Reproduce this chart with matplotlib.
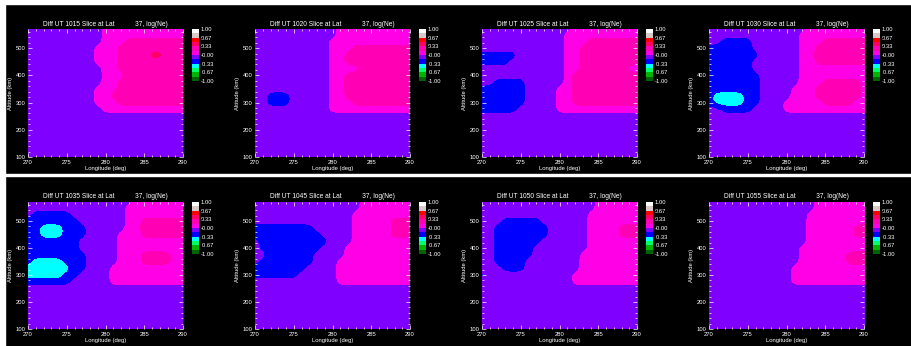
import numpy as np
import matplotlib
matplotlib.use("Agg")
import matplotlib.pyplot as plt
from matplotlib.colors import ListedColormap, BoundaryNorm
from matplotlib.patches import Rectangle
from matplotlib.ticker import MultipleLocator

# model grid: longitude every 1 deg, altitude every 25 km
lon = np.arange(270, 291, 1)
alt = np.arange(100, 576, 25)

lat = 37
ut_times = ["1015", "1020", "1025", "1030", "1035", "1045", "1050", "1055"]

# log(Ne) difference per node, one character per band midpoint
band_value = {"c": -0.417, "b": -0.25, ".": -0.083, "p": 0.083, "P": 0.25, "r": 0.417}

# rows run from 575 km (top) down to 100 km
diff_1015 = [
    "..........ppppppppppp",
    "..........ppppppppppp",
    "..........pppPPPPPPPP",
    ".........pppPPPPPPPPP",
    ".........pppPPPPrrPPP",
    ".........pppPPPPPPPPP",
    "..........ppPPPPPPPPP",
    "..........pppPPPPPPPP",
    "..........ppPPPPPPPPP",
    ".........pppPPPPPPPPP",
    ".........ppPPPPPPPPPP",
    ".........pppPPPPPPPPP",
    "..........ppppppppppp",
    ".....................",
    ".....................",
    ".....................",
    ".....................",
    ".....................",
    ".....................",
    ".....................",
]
diff_1020 = [
    "...........pppppppppp",
    "...........pppppppppp",
    "..........ppppppppppp",
    "..........pppPPPPPPPP",
    "..........ppPPPPPPPPP",
    "..........ppPPPPPPPPP",
    "..........ppppPPPPPPP",
    "..........ppPPPPPPPPP",
    "..........ppPPPPPPPPP",
    "..........ppPPPPPPPPP",
    "..bbb.....ppPPPPPPPPP",
    "..bbb.....pppPPPPPPPP",
    "..........ppppppppppp",
    ".....................",
    ".....................",
    ".....................",
    ".....................",
    ".....................",
    ".....................",
    ".....................",
]
diff_1025 = [
    "............ppppppppp",
    "...........pppppppppp",
    "...........pppPPPPPPP",
    "...........ppPPPPPPPP",
    "bbbbb......ppPPPPPPPP",
    "bbbb.......ppPPPPPPPP",
    "...........ppPPPPPPpp",
    "...........pPPPPPPPPP",
    "..bbbb.....pPPPPPPPPP",
    "bbbbbb....ppPPPPPPPPP",
    "bbbbbb....ppPPPPPPPPP",
    "bbbbbb....ppPPPPPPPPP",
    "bbbbb.....ppppppppppp",
    ".....................",
    ".....................",
    ".....................",
    ".....................",
    ".....................",
    ".....................",
    ".....................",
]
diff_1030 = [
    ".............pppppppp",
    "............ppppppppp",
    "..bbbb......pppPPPPPP",
    "bbbbbb......ppPPPPPPP",
    "bbbbbbb.....ppPPPPPPP",
    "bbbbbb......ppPPPPPPP",
    ".bbbbb......ppppppppp",
    "bbbbbbb.....ppppppppp",
    "bbbbbbb.....pppPPPPPp",
    "bbbbbbb....pppPPPPPPp",
    "bccccbb....pppPPPPPPp",
    "bccccbb...pppppPPPPpp",
    "..bbbb....ppppppppppp",
    ".....................",
    ".....................",
    ".....................",
    ".....................",
    ".....................",
    ".....................",
    ".....................",
]
diff_1035 = [
    "..............ppppppp",
    ".............pppppppp",
    ".bbbbb.......pppppppp",
    "bbbbbbb......ppPPPPPP",
    "bbcccbbb.....ppPPPPPP",
    "bbcccbbb....pppPPPPPP",
    "bbbbbbb.....ppppppppp",
    ".bbbbbb.....ppppppppp",
    "bbbbbbbb....pppPPPPpp",
    "bccccbbb....pppPPPPpp",
    "ccccccbb...pppppppppp",
    "cccccbb....pppppppppp",
    "bbbbbb.....pppppppppp",
    ".....................",
    ".....................",
    ".....................",
    ".....................",
    ".....................",
    ".....................",
    ".....................",
]
diff_1045 = [
    "..............ppppppp",
    "..............ppppppp",
    ".............pppppppp",
    ".............pppppPPP",
    "bbbbbbbb.....pppppPPP",
    "bbbbbbbbb....pppppPPP",
    ".bbbbbbbbb...pppppppp",
    ".bbbbbbbb...ppppppppp",
    "..bbbbbb....ppppppppp",
    ".bbbbbbb...pppppppppp",
    "bbbbbbb....pppppppppp",
    "bbbbbb.....pppppppppp",
    "...........pppppppppp",
    ".....................",
    ".....................",
    ".....................",
    ".....................",
    ".....................",
    ".....................",
    ".....................",
]
diff_1050 = [
    "...............pppppp",
    "...............pppppp",
    "..............ppppppp",
    "...bbbbb......ppppppp",
    "..bbbbbbb.....ppppPPP",
    "..bbbbbbb.....ppppPPP",
    "..bbbbbb......ppppppp",
    "..bbbbb.......ppppppp",
    "..bbbbb......pppppppp",
    "..bbbb.......pppppppp",
    "...bbb.......pppppppp",
    "b...........ppppppppp",
    "............ppppppppp",
    ".....................",
    ".....................",
    ".....................",
    ".....................",
    ".....................",
    ".....................",
    ".....................",
]
diff_1055 = [
    "..............ppppppp",
    "..............ppppppp",
    ".............pppppppp",
    ".............pppppppp",
    ".............ppppppPP",
    ".............ppppppPP",
    ".............pppppppp",
    "............ppppppppp",
    "............ppppppPPP",
    "............ppppppPPP",
    "...........pppppppppp",
    "...........pppppppppp",
    "...........pppppppppp",
    ".....................",
    ".....................",
    ".....................",
    ".....................",
    ".....................",
    ".....................",
    ".....................",
]
panel_grids = [diff_1015, diff_1020, diff_1025, diff_1030,
               diff_1035, diff_1045, diff_1050, diff_1055]

level_edges = np.linspace(-1.0, 1.0, 13)
band_colors = [
    "#006400", "#00b400", "#00ff64", "#00ffff", "#0000ff", "#8000ff",
    "#ff00e6", "#ff00b4", "#ff0064", "#ff0000", "#d8c8c8", "#ffffff",
]
cbar_ticks = [1.0, 0.667, 0.333, 0.0, -0.333, -0.667, -1.0]
cbar_labels = ["1.00", "0.67", "0.33", "-0.00", "-0.33", "-0.67", "-1.00"]

W, H = 912, 346
FONT = ["Liberation Sans", "DejaVu Sans"]


def px_box(x0, y0, w, h):
    return [x0 / W, 1 - (y0 + h) / H, w / W, h / H]


def grid_values(rows):
    z = np.array([[band_value[ch] for ch in row] for row in rows])
    return z[::-1]  # bottom row first


cmap = ListedColormap(band_colors)
norm = BoundaryNorm(level_edges, cmap.N)
dlon, dalt = lon[1] - lon[0], alt[1] - alt[0]
extent = [lon[0] - dlon / 2, lon[-1] + dlon / 2, alt[0] - dalt / 2, alt[-1] + dalt / 2]

fig = plt.figure(figsize=(W / 100, H / 100), dpi=100, facecolor="black")
# white frame strips and the divider between the two rows
for x, y, w, h in [(0, 0, 5, H), (0, 0, W, 4), (0, 174, W, 2)]:
    fig.add_artist(Rectangle((x / W, 1 - (y + h) / H), w / W, h / H,
                             transform=fig.transFigure, color="white", zorder=10))

row_tops = [29, 202]
row_heights = [128, 127]

for i, (ut, rows) in enumerate(zip(ut_times, panel_grids)):
    r, c = divmod(i, 4)
    x0 = 28 + 227 * c
    top = row_tops[r]
    ax = fig.add_axes(px_box(x0, top, 155, row_heights[r]))
    ax.set_facecolor(band_colors[5])
    z = grid_values(rows)
    im = ax.imshow(z, origin="lower", extent=extent, aspect="auto", cmap=cmap, norm=norm,
                   interpolation="bicubic", interpolation_stage="data")
    ax.set_xlim(270, 290)
    ax.set_ylim(100, 570)
    ax.xaxis.set_major_locator(MultipleLocator(5))
    ax.xaxis.set_minor_locator(MultipleLocator(1))
    ax.yaxis.set_major_locator(MultipleLocator(100))
    ax.yaxis.set_minor_locator(MultipleLocator(20))
    ax.tick_params(which="both", direction="in", colors="white", top=True, right=True,
                   labelsize=4.2, width=0.5, pad=2)
    ax.tick_params(which="major", length=3)
    ax.tick_params(which="minor", length=1.5)
    for lab in ax.get_xticklabels() + ax.get_yticklabels():
        lab.set_family(FONT)
    for s in ax.spines.values():
        s.set_visible(False)
    ax.set_xlabel("Longitude (deg)", fontsize=4.2, color="white", labelpad=1, family=FONT)
    ax.set_ylabel("Altitude (km)", fontsize=4.2, color="white", labelpad=2, family=FONT)

    title = f"Diff UT {ut} Slice at Lat{' ' * 11}{lat}, log(Ne)"
    fig.text((x0 + 77.5) / W, 1 - (top - 5) / H, title, ha="center", va="center",
             fontsize=4.8, color="white", family=FONT)

    cax = fig.add_axes(px_box(x0 + 164, top, 7, 52))
    cb = fig.colorbar(im, cax=cax)
    cb.set_ticks(cbar_ticks, labels=cbar_labels)
    cb.outline.set_visible(False)
    cb.ax.tick_params(length=0, labelsize=4.2, colors="white", pad=1)
    for lab in cb.ax.get_yticklabels():
        lab.set_family(FONT)

fig.savefig("out.png", dpi=100, facecolor=fig.get_facecolor())
